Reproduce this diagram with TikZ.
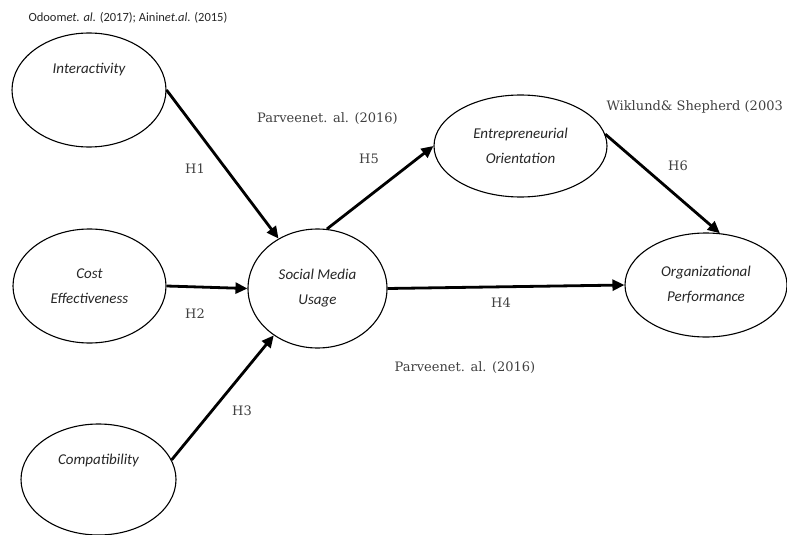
\documentclass[tikz,border=0pt]{standalone}
\usepackage{fontspec}
\setmainfont{Carlito}
\newfontfamily\citefont{DejaVu Serif}
\usetikzlibrary{arrows.meta,shapes.geometric}

\tikzset{
  construct/.style={ellipse, draw=black, line width=1.1pt, inner sep=0pt, align=center,
    font=\fontsize{15}{25}\selectfont\itshape, text=black!85},
  inname/.style={font=\fontsize{15}{25}\selectfont\itshape, text=black!85},
  hypo/.style={line width=2.8pt, -{Triangle[length=12pt,width=11pt]}},
  hlabel/.style={font=\citefont\fontsize{13}{15}\selectfont, text=black!75}
}

\begin{document}
\begin{tikzpicture}[x=1pt,y=-1pt]
\useasboundingbox (0,0) rectangle (787,535);

\node[anchor=west, font=\fontsize{12.5}{14}\selectfont, text=black!85] (src) at (25,18)
  {Odoom\textit{et. al.} (2017); Ainin\textit{et.al.} (2015)};

\node[construct, minimum width=154pt, minimum height=114pt,
  label={[inname, yshift=20pt]center:Interactivity}] (ia) at (89,90) {};
\node[construct, minimum width=153pt, minimum height=114pt] (ce) at (89.5,286) {Cost\\Effectiveness};
\node[construct, minimum width=155pt, minimum height=111pt,
  label={[inname, yshift=19.5pt]center:Compatibility}] (cp) at (98.5,479.5) {};
\node[construct, minimum width=139pt, minimum height=119pt] (smu) at (317.5,288.5) {Social Media\\Usage};
\node[construct, minimum width=173pt, minimum height=102pt] (eo) at (520.5,146) {Entrepreneurial\\Orientation};
\node[construct, minimum width=162pt, minimum height=104pt] (op) at (706,285) {Organizational\\Performance};

\draw[hypo] (ia.east) -- (smu.128);
\draw[hypo] (ce.east) -- (smu.west);
\draw[hypo] (cp.15) -- (smu.227);
\draw[hypo] (smu.east) -- (op.west);
\draw[hypo] (smu.81) -- (eo.west);
\draw[hypo] (eo.8) -- (op.75);

\node[hlabel] (h1) at (195,169) {H1};
\node[hlabel] (h2) at (195,314) {H2};
\node[hlabel] (h3) at (242,411) {H3};
\node[hlabel] (h4) at (501,303) {H4};
\node[hlabel] (h5) at (369,159) {H5};
\node[hlabel] (h6) at (678,166) {H6};

\node[hlabel] (pv1) at (327.5,119) {Parveenet. al. (2016)};
\node[hlabel] (pv2) at (465,368) {Parveenet. al. (2016)};
\node[hlabel, anchor=west] (ws) at (603,107) {Wiklund\& Shepherd (2003};
\end{tikzpicture}
\end{document}
